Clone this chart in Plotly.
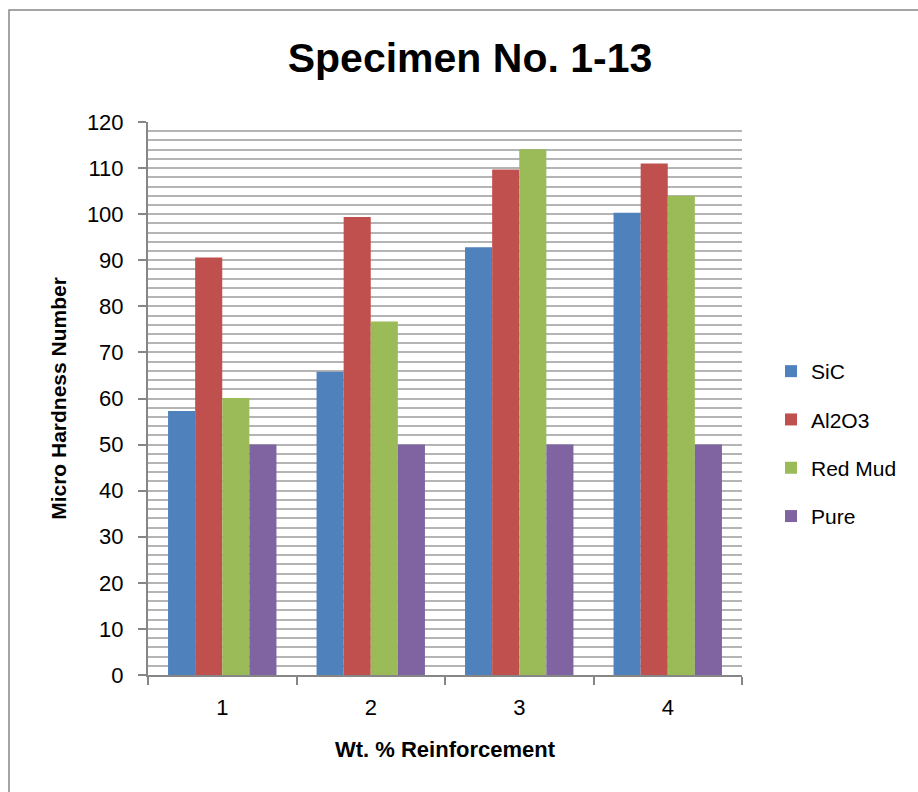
import plotly.graph_objects as go

categories = ["1", "2", "3", "4"]
sic = [57.3, 65.8, 92.8, 100.3]
al2o3 = [90.6, 99.4, 109.7, 111.0]
red_mud = [60.1, 76.7, 114.1, 104.0]
pure = [50.0, 50.0, 50.0, 50.0]

series = [
    ("SiC", sic, "#4F81BD"),
    ("Al2O3", al2o3, "#C0504D"),
    ("Red Mud", red_mud, "#9BBB59"),
    ("Pure", pure, "#8064A2"),
]

W, H = 918, 792
L, R, T, B = 148, 176, 122, 117
pw, ph = W - L - R, H - T - B

fig = go.Figure()
for i, (name, vals, col) in enumerate(series):
    fig.add_trace(go.Bar(x=categories, y=vals, name=name, marker_color=col,
                         marker_line_width=0, legendgroup=str(i)))

narrow = "Liberation Sans Narrow, Arial Narrow, Liberation Sans, sans-serif"

def px2x(px):
    return (px - L) / pw

def py2y(py):
    return (H - B - py) / ph

fig.update_layout(
    width=W, height=H,
    margin=dict(l=L, r=R, t=T, b=B, autoexpand=False),
    paper_bgcolor="white", plot_bgcolor="white",
    barmode="group", bargap=0.27, bargroupgap=0,
    title=dict(text="<b>Specimen No. 1-13</b>", x=px2x(470), xref="paper", xanchor="center",
               y=1 - 58 / H, yanchor="middle",
               font=dict(family=narrow, size=41, color="black")),
    font=dict(family=narrow, color="black"),
    legend=dict(x=px2x(771), y=py2y(444), xanchor="left", yanchor="middle",
                font=dict(family=narrow, size=21, color="black"),
                traceorder="grouped", tracegroupgap=18, itemwidth=30),
    showlegend=True,
    shapes=[dict(type="rect", xref="paper", yref="paper",
                 x0=px2x(9), x1=px2x(925), y0=py2y(800), y1=py2y(10),
                 line=dict(color="#888888", width=1.5), fillcolor="rgba(0,0,0,0)", layer="below")],
)

fig.update_xaxes(
    showline=True, linecolor="#868686", linewidth=2,
    ticks="outside", tickson="boundaries", ticklen=8, tickcolor="#868686", tickwidth=1.5,
    tickfont=dict(family=narrow, size=22, color="black"), ticklabelstandoff=12,
    title=dict(text="<b>Wt. % Reinforcement</b>", font=dict(family=narrow, size=22, color="black"), standoff=22),
    showgrid=False,
)
fig.update_yaxes(
    range=[0, 120], dtick=10, tick0=0,
    showline=True, linecolor="#868686", linewidth=2,
    ticks="outside", ticklen=8, tickcolor="#868686", tickwidth=1.5,
    tickfont=dict(family=narrow, size=22, color="black"), ticklabelstandoff=10,
    showgrid=True, gridcolor="#b4b4b4", gridwidth=1.5,
    minor=dict(dtick=2, showgrid=True, gridcolor="#b4b4b4", gridwidth=1.5),
    title=dict(text="<b>Micro Hardness Number</b>", font=dict(family=narrow, size=21, color="black"), standoff=15),
    zeroline=False,
)

fig.write_html("out.html")
